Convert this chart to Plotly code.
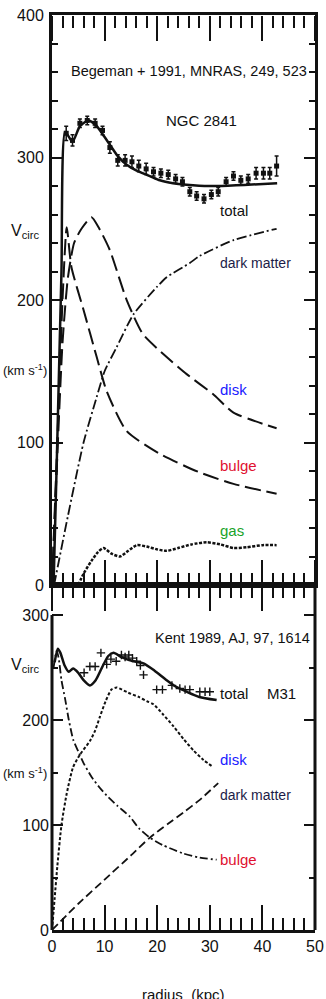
import plotly.graph_objects as go

# ---------------- NGC 2841 (top panel) ----------------
ngc_obs_r = [2.7, 3.9, 5.3, 6.7, 8.2, 9.6, 11.0, 12.5, 13.9, 15.2, 16.5, 17.9, 19.3, 20.7, 22.1,
             23.5, 24.8, 26.2, 27.5, 28.9, 30.3, 31.6, 33.1, 34.5, 35.9, 37.3, 38.8, 40.2, 41.4, 42.7]
ngc_obs_v = [317, 312, 324, 326, 324, 319, 307, 298, 298, 297, 294, 292, 290, 289, 288,
             285, 283, 276, 273, 271, 274, 276, 283, 287, 284, 285, 289, 289, 289, 294]
ngc_obs_e = [5, 4, 3, 3, 3, 3, 4, 4, 4, 4, 4, 4, 3, 3, 3,
             3, 3, 3, 3, 3, 3, 3, 3, 3, 3, 3, 4, 4, 4, 7]

ngc_total_r = [0.3, 1.0, 1.8, 2.5, 3.9, 5.3, 6.9, 8.3, 9.7, 11.0, 12.5, 14.2, 16.0, 18.6, 20.5,
               23.0, 26.8, 29.0, 32.0, 35.0, 38.0, 42.8]
ngc_total_v = [0, 100, 220, 318, 311, 322, 326, 323, 316, 309, 301, 295, 291, 287, 284,
               282, 280.5, 280, 280, 280.5, 281, 282]

ngc_bulge_r = [0, 1.2, 2.0, 2.8, 3.7, 6.0, 8.5, 10.4, 14.2, 20.5, 28.1, 34.5, 42.7]
ngc_bulge_v = [0, 120, 200, 251, 223, 193, 160, 136, 108, 92, 79, 71, 64]

ngc_disk_r = [0, 1.0, 2.0, 3.0, 4.2, 5.6, 7.5, 9.0, 11.0, 14.2, 17.3, 21.8, 25.6, 30.6, 34.5, 42.7]
ngc_disk_v = [0, 90, 170, 215, 240, 250, 258, 250, 235, 200, 176, 160, 148, 134, 121, 110]

ngc_dm_r = [0.4, 3.0, 6.0, 8.5, 10.0, 12.3, 15.5, 19.9, 21.8, 26.2, 28.1, 34.5, 42.7]
ngc_dm_v = [0, 48, 100, 132, 150, 167, 190, 209, 216, 226, 231, 242, 250]

ngc_gas_r = [5.0, 6.0, 7.5, 8.7, 9.8, 11.3, 12.9, 14.5, 16.1, 18.0, 20.0, 21.8, 24.0, 26.5,
             29.4, 32.0, 34.5, 37.0, 40.0, 42.7]
ngc_gas_v = [0, 8, 17, 23, 26, 22, 20, 24, 28, 27, 25, 24, 26, 28.5,
             30, 28.5, 26, 26.5, 28, 28]

# ---------------- M31 (bottom panel) ----------------
m31_obs_r = [6.1, 7.2, 8.2, 9.3, 10.4, 11.2, 12.2, 13.2, 13.9, 14.6, 15.3, 16.1, 16.8, 17.4,
             19.9, 21.0, 22.8, 24.3, 25.3, 26.2, 28.1, 29.1, 30.0]
m31_obs_v = [245, 251, 251, 264, 253, 258, 256, 262, 260, 262, 259, 256, 252, 243,
             229, 229, 233, 230, 229, 229, 227, 227, 227]

m31_total_r = [0.5, 1.1, 1.6, 2.4, 3.2, 4.0, 5.0, 6.0, 7.2, 8.3, 9.5, 10.7, 11.7, 13.2, 15.5,
               17.4, 19.5, 21.8, 23.5, 25.6, 28.0, 31.3]
m31_total_v = [255, 268, 264, 252, 246, 249, 245, 238, 233, 238, 250, 261, 264, 260, 256,
               254, 247, 238, 232, 227, 222, 219]

m31_bulge_r = [0.3, 0.9, 1.3, 1.8, 2.5, 3.2, 4.05, 5.0, 6.0, 7.5, 9.0, 10.4, 12.5, 14.8,
               16.5, 18.6, 21.0, 24.9, 28.0, 31.3]
m31_bulge_v = [250, 266, 258, 238, 220, 200, 181, 170, 159, 146, 136, 128, 118, 108,
               97, 88, 81, 73, 69, 67]

m31_disk_r = [0, 0.5, 1.0, 1.8, 2.8, 4.0, 5.3, 7.2, 8.2, 9.1, 10.2, 11.3, 12.3, 14.5, 16.5,
              18.0, 19.3, 21.0, 23.1, 25.0, 26.9, 28.8, 30.7]
m31_disk_v = [0, 30, 60, 100, 130, 155, 167, 180, 190, 203, 218, 229, 231, 226, 222,
              218, 215, 206, 194, 182, 171, 162, 155]

m31_dm_r = [0, 5, 10, 15, 18.6, 22, 25, 28.1, 31.6]
m31_dm_v = [0, 25, 48, 71, 88, 101, 112, 124, 140]

x_ticks = [0, 10, 20, 30, 40, 50]
top_y_ticks = [0, 100, 200, 300, 400]
bot_y_ticks = [0, 100, 200, 300]

FONT = "Liberation Sans, Arial, sans-serif"
BLACK = "#111111"

fig = go.Figure()

def line(r, v, dash, width, ax):
    fig.add_trace(go.Scatter(x=r, y=v, mode="lines", xaxis=ax[0], yaxis=ax[1],
                             line=dict(color=BLACK, width=width, dash=dash, shape="spline", smoothing=0.6),
                             showlegend=False, hoverinfo="skip"))

top = ("x", "y")
bot = ("x2", "y2")

line(ngc_total_r, ngc_total_v, "solid", 2.5, top)
line(ngc_disk_r, ngc_disk_v, "16px,6px", 2, top)
line(ngc_bulge_r, ngc_bulge_v, "16px,6px", 2, top)
line(ngc_dm_r, ngc_dm_v, "10px,3px,2px,3px", 1.8, top)
line(ngc_gas_r, ngc_gas_v, "3px,1.5px", 2.5, top)
fig.add_trace(go.Scatter(x=ngc_obs_r, y=ngc_obs_v, mode="markers", xaxis="x", yaxis="y",
                         marker=dict(symbol="square", size=5, color=BLACK),
                         error_y=dict(type="data", array=ngc_obs_e, color=BLACK, thickness=1.5, width=2),
                         showlegend=False, hoverinfo="skip"))

line(m31_total_r, m31_total_v, "solid", 2.5, bot)
line(m31_bulge_r, m31_bulge_v, "8px,3px,2px,3px", 1.8, bot)
line(m31_disk_r, m31_disk_v, "3px,2px", 2, bot)
line(m31_dm_r, m31_dm_v, "8px,4px", 1.8, bot)
fig.add_trace(go.Scatter(x=m31_obs_r, y=m31_obs_v, mode="markers", xaxis="x2", yaxis="y2",
                         marker=dict(symbol="cross-thin", size=6, line=dict(color=BLACK, width=1.4)),
                         showlegend=False, hoverinfo="skip"))

SPLIT = 0.377

# free-positioned tick-only x axes: (axis name, position, side) -- outside ticks point into the panels
tick_axes = [("x3", 1.0, "bottom"), ("x4", SPLIT, "top"), ("x5", SPLIT, "bottom"), ("x6", 0.0, "top")]
for name, _, _ in tick_axes:
    fig.add_trace(go.Scatter(x=[0, 50], y=[0, 0], mode="markers", xaxis=name, yaxis="y",
                             marker=dict(opacity=0), showlegend=False, hoverinfo="skip"))

xbase = dict(range=[0, 50], showgrid=False, zeroline=False, automargin=False)
tickaxis = dict(xbase, tickmode="array", tickvals=x_ticks, ticks="outside", ticklen=25,
                tickwidth=2, tickcolor=BLACK, showline=False, showticklabels=False,
                minor=dict(ticks="outside", dtick=2, ticklen=12, tickwidth=2, tickcolor=BLACK,
                           showgrid=False))
ycommon = dict(ticks="inside", ticklen=11, tickwidth=2, tickcolor=BLACK, showgrid=False,
               zeroline=False, linewidth=3, linecolor=BLACK, automargin=False,
               tickfont=dict(family=FONT, size=16, color=BLACK), ticklabelstandoff=2)

layout_axes = dict(
    xaxis=dict(xbase, anchor="y", domain=[0, 1], showticklabels=False, ticks="",
               showline=True, linewidth=3, linecolor=BLACK, mirror=True),
    xaxis2=dict(xbase, anchor="y2", domain=[0, 1], tickmode="array", tickvals=x_ticks,
                ticks="", showline=True, linewidth=3, linecolor=BLACK, mirror=True,
                tickfont=dict(family=FONT, size=16, color=BLACK)),
    yaxis=dict(ycommon, domain=[SPLIT, 1], range=[0, 400], tickvals=top_y_ticks,
               showline=True, mirror="ticks",
               minor=dict(ticks="inside", dtick=20, ticklen=6, tickwidth=2, tickcolor=BLACK, showgrid=False)),
    yaxis2=dict(ycommon, domain=[0, SPLIT], range=[0, 328.6], tickvals=bot_y_ticks,
                showline=False, mirror="ticks",
                minor=dict(ticks="inside", dtick=50, ticklen=6, tickwidth=2, tickcolor=BLACK, showgrid=False)),
)
for name, pos, side in tick_axes:
    layout_axes["xaxis" + name[1:]] = dict(tickaxis, overlaying="x", anchor="free",
                                           position=pos, side=side)

fig.update_layout(
    width=326, height=999,
    margin=dict(l=52, r=11, t=15, b=69, pad=0),
    paper_bgcolor="white", plot_bgcolor="white",
    showlegend=False,
    **layout_axes,
)

# bottom-panel side spines (left spine stops at 300)
fig.add_shape(type="line", xref="paper", yref="y2", x0=0, x1=0, y0=0, y1=300,
              line=dict(color=BLACK, width=3))
fig.add_shape(type="line", xref="paper", yref="y2", x0=1, x1=1, y0=0, y1=328.6,
              line=dict(color=BLACK, width=3))

def txt(x, y, s, ax, color=BLACK, anchor="left", size=14, xref=None):
    fig.add_annotation(x=x, y=y, text=s, xref=xref or ax[0], yref=ax[1], showarrow=False,
                       xanchor=anchor, yanchor="middle",
                       font=dict(family=FONT, size=size, color=color))

txt(26.0, 361, "Begeman + 1991, MNRAS, 249, 523", top, anchor="center", size=14.5)
txt(28.5, 326, "NGC 2841", top, anchor="center", size=15)
txt(31.6, 263, "total", top, size=15)
txt(31.6, 226, "dark matter", top, color="#1c1c48")
txt(31.6, 137, "disk", top, color="#1a1aff", size=15)
txt(31.6, 84, "bulge", top, color="#e01030", size=15)
txt(31.6, 38.6, "gas", top, color="#1aa32a", size=15)
txt(-0.103, 248, "V<sub>circ</sub>", top, anchor="center", xref="paper", size=16)
txt(-0.103, 151, "(km s<sup>-1</sup>)", top, anchor="center", xref="paper", size=13)

txt(34.4, 278, "Kent 1989, AJ, 97, 1614", bot, anchor="center", size=14.5)
txt(31.6, 225.7, "total", bot, size=15)
txt(40.5, 225.7, "M31", bot, size=15)
txt(31.6, 162, "disk", bot, color="#1a1aff", size=15)
txt(31.6, 128.6, "dark matter", bot, color="#1c1c48")
txt(31.6, 66.7, "bulge", bot, color="#e01030", size=15)
txt(-0.103, 252, "V<sub>circ</sub>", bot, anchor="center", xref="paper", size=16)
txt(-0.103, 150, "(km s<sup>-1</sup>)", bot, anchor="center", xref="paper", size=13)

fig.add_annotation(x=0.5, y=-0.059, xref="paper", yref="paper", text="radius  (kpc)",
                   showarrow=False, xanchor="center", yanchor="top",
                   font=dict(family=FONT, size=15, color=BLACK))

fig.write_html("out.html", config={"displayModeBar": False},
               post_script="document.body.style.margin='0';")
